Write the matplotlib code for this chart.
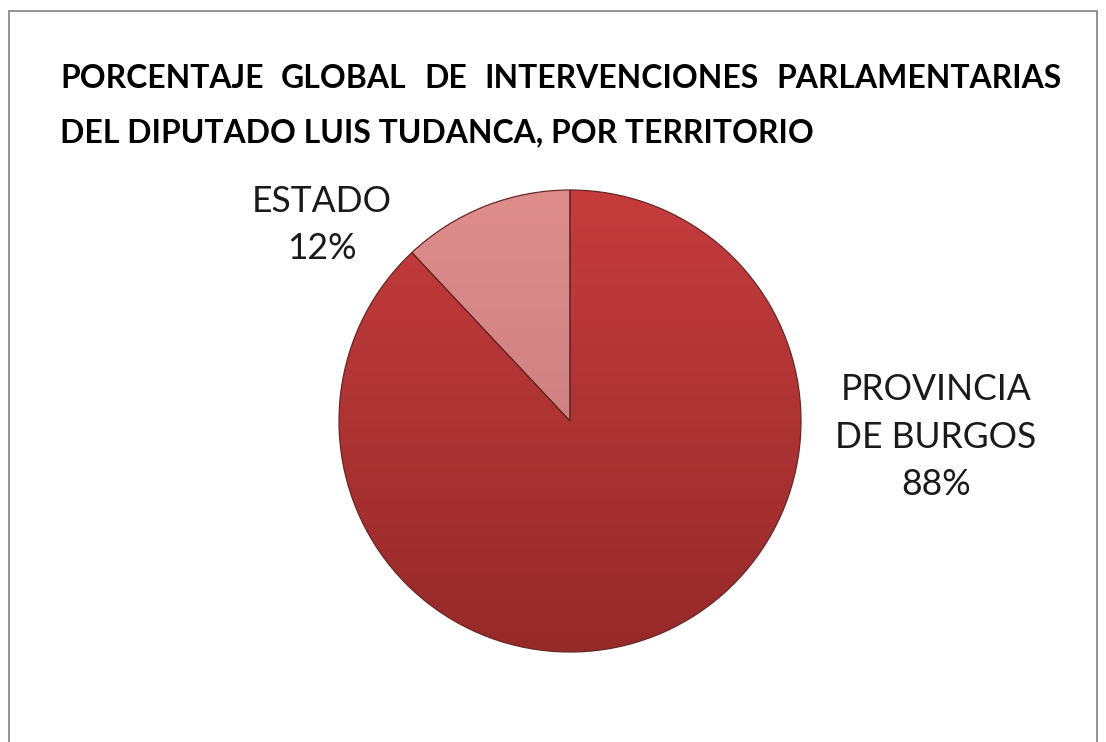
import matplotlib
matplotlib.use("Agg")
import matplotlib.pyplot as plt
import numpy as np
from matplotlib.colors import LinearSegmentedColormap
from matplotlib.patches import Rectangle

TITLE_LINES = ["PORCENTAJE GLOBAL DE INTERVENCIONES PARLAMENTARIAS",
               "DEL DIPUTADO LUIS TUDANCA, POR TERRITORIO"]
CATEGORIES = ["PROVINCIA\nDE BURGOS", "ESTADO"]
VALUES = [88, 12]
TOP_COLORS = ["#C63C3D", "#DE8C8C"]
BOTTOM_COLORS = ["#962A29", "#C27878"]

W, H = 1106, 742
FONT = "Lato"

fig = plt.figure(figsize=(W / 100, H / 100), dpi=100)
ax = fig.add_axes([0, 0, 1, 1])

# chart frame (bottom edge cut off in the original)
ax.add_patch(Rectangle((8.5, -20), 1088, H - 10.5 + 20, fill=False,
                       edgecolor="#8a8a8a", linewidth=1.3))

cx, cy, r = 570, H - 421, 231
wedges, _ = ax.pie(VALUES, center=(cx, cy), radius=r, startangle=90,
                   counterclock=False, frame=True,
                   wedgeprops=dict(edgecolor="#6a2626", linewidth=0.9))

# vertical gradient fill clipped to each wedge
grad = np.linspace(0, 1, 256).reshape(-1, 1)
for w, c0, c1 in zip(wedges, TOP_COLORS, BOTTOM_COLORS):
    w.set_facecolor("none")
    cmap = LinearSegmentedColormap.from_list("g", [c1, c0])
    im = ax.imshow(grad, cmap=cmap, origin="lower", aspect="auto",
                   extent=(cx - r, cx + r, cy - r, cy + r), zorder=0.5)
    im.set_clip_path(w)
    w.set_zorder(1)

ax.set_xlim(0, W)
ax.set_ylim(0, H)
ax.set_aspect("equal")
ax.axis("off")

# title: first line justified between x=60 and x=1062
renderer = fig.canvas.get_renderer()
probe = ax.text(0, 0, TITLE_LINES[1], fontsize=20, fontweight="bold", family=FONT)
pw = probe.get_window_extent(renderer).width
probe.remove()
tsize = 20 * 752 / pw

words = TITLE_LINES[0].split()
widths = []
for wd in words:
    t = ax.text(0, 0, wd, fontsize=tsize, fontweight="bold", family=FONT)
    widths.append(t.get_window_extent(renderer).width)
    t.remove()
gap = (1062 - 60 - sum(widths)) / (len(words) - 1)
x = 60
for wd, wdt in zip(words, widths):
    ax.text(x, H - 78, wd, fontsize=tsize, fontweight="bold", family=FONT,
            ha="left", va="center", color="black")
    x += wdt + gap
ax.text(60, H - 133, TITLE_LINES[1], fontsize=tsize, fontweight="bold",
        family=FONT, ha="left", va="center", color="black")

# slice labels
probe = ax.text(0, 0, "DE BURGOS", fontsize=20, family=FONT)
lw = probe.get_window_extent(renderer).width
probe.remove()
lsize = 20 * 201 / lw

label_pos = [(936, H - 437), (322, H - 225)]
for (lx, ly), cat, v in zip(label_pos, CATEGORIES, VALUES):
    ax.text(lx, ly, f"{cat}\n{v}%", fontsize=lsize, family=FONT,
            ha="center", va="center", linespacing=1.55, color="#1a1a1a")

fig.savefig("out.png", dpi=100)
